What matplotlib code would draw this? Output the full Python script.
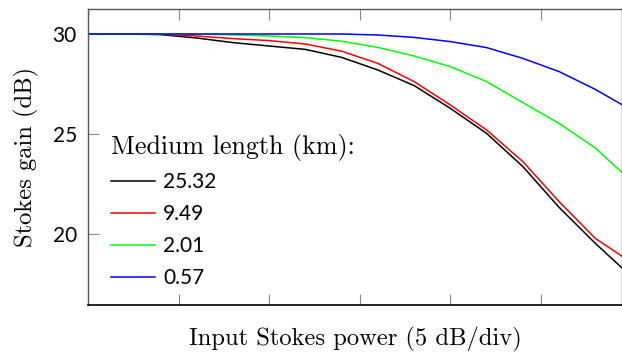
import numpy as np
import matplotlib
matplotlib.use("Agg")
import matplotlib.pyplot as plt

# input Stokes power in dB (one point every 2 dB, last point at the visible edge)
power_db = [0, 2, 4, 6, 8, 10, 12, 14, 16, 18, 20, 22, 24, 26, 28, 29.5]

gain_25_32 = [30, 30, 29.97, 29.8, 29.57, 29.4, 29.23, 28.83, 28.2, 27.42,
              26.28, 25.03, 23.37, 21.33, 19.53, 18.28]
gain_9_49 = [30, 30, 29.99, 29.9, 29.77, 29.67, 29.5, 29.14, 28.53, 27.62,
             26.45, 25.2, 23.62, 21.62, 19.78, 18.87]
gain_2_01 = [30, 30, 30, 29.99, 29.96, 29.9, 29.82, 29.64, 29.33, 28.9,
             28.37, 27.62, 26.57, 25.53, 24.3, 23.05]
gain_0_57 = [30, 30, 30, 30, 30, 30, 30, 30, 29.95, 29.83,
             29.62, 29.32, 28.78, 28.12, 27.23, 26.45]

labels = ["25.32", "9.49", "2.01", "0.57"]
colors = ["black", "red", "#00ff00", "blue"]

fig = plt.figure(figsize=(6.22, 3.59), dpi=100)
ax = fig.add_axes([88/622, 54/359, 534/622, 296/359])

for g, lab, c in zip([gain_25_32, gain_9_49, gain_2_01, gain_0_57], labels, colors):
    ax.plot(power_db, g, color=c, lw=1.1, label=lab)

ax.set_xlim(0, 29.47)
ax.set_ylim(16.45, 31.25)
ax.set_xticks([5, 10, 15, 20, 25])
ax.set_xticklabels([])
ax.set_yticks([20, 25, 30])
ax.tick_params(direction="in", length=8, width=0.8, color="#888888",
               top=True, labelsize=15, pad=8)
for lbl in ax.get_yticklabels():
    lbl.set_fontfamily("Lato")
for s in ["left", "top", "right"]:
    ax.spines[s].set_color("#555555")
    ax.spines[s].set_linewidth(1.0)
ax.spines["bottom"].set_linewidth(1.2)

ax.set_xlabel("Input Stokes power (5 dB/div)", fontfamily="cmr10", fontsize=17.7, labelpad=8)
ax.set_ylabel("Stokes gain (dB)", fontfamily="cmr10", fontsize=17.7, labelpad=10)

leg = ax.legend(loc="lower left", bbox_to_anchor=(0.008, -0.006), frameon=False,
                prop={"family": "Lato", "size": 15}, handlelength=2.1,
                handletextpad=0.4, labelspacing=0.57,
                title="Medium length (km):",
                title_fontproperties={"family": "cmr10", "size": 18.7})
leg._legend_box.align = "left"

fig.savefig("out.png", dpi=100)
